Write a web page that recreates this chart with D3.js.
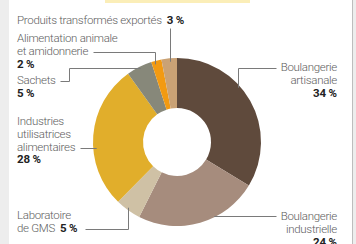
<!DOCTYPE html>
<html>
<head>
<meta charset="utf-8">
<style>
  body { margin: 0; background: #ededed; }
  svg { display: block; }
  .lbl { font-family: Roboto, "Liberation Sans", sans-serif; font-weight: 300; font-size: 11.5px; letter-spacing: -0.3px; fill: #5e5e5e; }
  .pct { font-weight: bold; fill: #222; letter-spacing: 0; }
  .leader { fill: none; stroke: #7a7a7a; stroke-width: 1; }
</style>
</head>
<body>
<svg width="356" height="244"></svg>
<script src="https://cdn.jsdelivr.net/npm/d3@7"></script>
<script>
// data
var categories = ["Boulangerie artisanale", "Boulangerie industrielle", "Laboratoire de GMS",
  "Industries utilisatrices alimentaires", "Sachets", "Alimentation animale et amidonnerie",
  "Produits transformés exportés"];
var shares = [34, 24, 5, 28, 5, 2, 3];
var colors = ["#5f4a3c", "#a68c7d", "#cfc1a5", "#e1ae2b", "#87887a", "#f29a12", "#caa275"];

var svg = d3.select("svg");
var cx = 177, cy = 142, rOut = 84, rIn = 34;

// panel
svg.append("rect").attr("x", 9).attr("y", 0).attr("width", 343).attr("height", 244).attr("fill", "#fff");
svg.append("line").attr("x1", 352.5).attr("x2", 352.5).attr("y1", 0).attr("y2", 244)
  .attr("stroke", "#bdbdbd");
svg.append("rect").attr("x", 105).attr("y", 0).attr("width", 145).attr("height", 3).attr("fill", "#fbeeb8");

var pie = d3.pie().sort(null).value(function(d) { return d; });
var arc = d3.arc().innerRadius(rIn).outerRadius(rOut);
var arcs = pie(shares);

var g = svg.append("g").attr("transform", "translate(" + cx + "," + cy + ")");
g.selectAll("path").data(arcs).enter().append("path")
  .attr("d", arc)
  .attr("fill", function(d, i) { return colors[i]; });

// label layout: text lines, anchor, leader path (last leg runs to the ring)
var labels = [
  { i: 0, x: 337, y: 71, anchor: "end", lines: ["Boulangerie", "artisanale"], pctLine: true,
    leader: [[276, 68], [238, 68]], end: "v" },
  { i: 1, x: 337, y: 220, anchor: "end", lines: ["Boulangerie", "industrielle"], pctLine: true,
    leader: [[276, 216]], end: "h" },
  { i: 2, x: 17, y: 219, anchor: "start", lines: ["Laboratoire", "de GMS"], pctLine: false,
    leader: [[85, 229], [128, 229]], end: "v" },
  { i: 3, x: 17, y: 125, anchor: "start", lines: ["Industries", "utilisatrices", "alimentaires"], pctLine: true,
    leader: [[80, 148]], end: "h" },
  { i: 4, x: 17, y: 84, anchor: "start", lines: ["Sachets"], pctLine: true,
    leader: [[60, 81], [69, 81], [69, 68]], end: "h" },
  { i: 5, x: 17, y: 42, anchor: "start", lines: ["Alimentation animale", "et amidonnerie"], pctLine: true,
    leader: [[93, 52], [155, 52]], end: "v" },
  { i: 6, x: 17, y: 24, anchor: "start", lines: ["Produits transformés exportés"], pctLine: false,
    leader: [[170, 28]], end: "v" }
];

var lh = 12.8;
labels.forEach(function(L) {
  var t = svg.append("text").attr("class", "lbl").attr("text-anchor", L.anchor);
  L.lines.forEach(function(s, k) {
    t.append("tspan").attr("x", L.x).attr("y", L.y + k * lh).text(s);
  });
  var pctText = shares[L.i] + "\u2009%";
  if (L.pctLine) {
    t.append("tspan").attr("class", "pct").attr("x", L.x).attr("y", L.y + L.lines.length * lh).text(pctText);
  } else {
    t.select("tspan:last-child").append("tspan").attr("class", "pct").attr("dx", 5).text(pctText);
  }

  // last leg to the outer edge of the ring
  var pts = L.leader.slice();
  var last = pts[pts.length - 1];
  var end;
  if (L.end === "v") {
    var dx = last[0] - cx;
    var dy = Math.sqrt(rOut * rOut - dx * dx) - 3;
    end = [last[0], last[1] < cy ? cy - dy : cy + dy];
  } else {
    var dyy = last[1] - cy;
    var dxx = Math.sqrt(rOut * rOut - dyy * dyy) - 3;
    end = [last[0] < cx ? cx - dxx : cx + dxx, last[1]];
  }
  pts.push(end);
  svg.append("path").attr("class", "leader").attr("d", d3.line()(pts.map(function(p) { return [p[0] + 0.5, p[1] + 0.5]; })));
});
</script>
</body>
</html>
